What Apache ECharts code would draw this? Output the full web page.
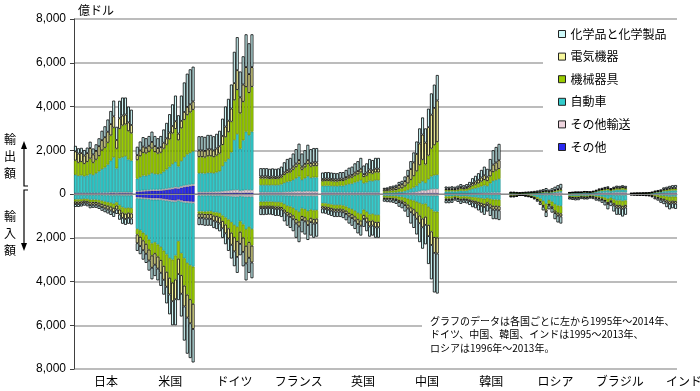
<!DOCTYPE html>
<html><head><meta charset="utf-8">
<script src="https://cdn.jsdelivr.net/npm/echarts/dist/echarts.min.js"></script>
<style>html,body{margin:0;padding:0;background:#fff}#c{width:700px;height:391px}</style>
</head><body><div id="c"></div>
<script>
// 億ドル. Layer order in every country array:
// [その他, その他輸送, 自動車, 機械器具, 電気機器, 化学品と化学製品]
const countries = ['日本','米国','ドイツ','フランス','英国','中国','韓国','ロシア','ブラジル','インド'];
const startYears = [1995,1995,1995,1995,1995,1995,1995,1996,1995,1995];
const layerNames = ['その他','その他輸送','自動車','機械器具','電気機器','化学品と化学製品'];
const legendOrder = ['化学品と化学製品','電気機器','機械器具','自動車','その他輸送','その他'];
const yTicks = [-8000,-6000,-4000,-2000,0,2000,4000,6000,8000];

const japanExport = [
 [20,20,20,20,20,20,20,20,20,25,25,25,30,30,25,30,30,30,30,30],
 [30,30,30,30,30,30,30,30,35,35,40,40,45,50,45,50,50,50,45,45],
 [830,780,800,760,800,870,820,900,980,1080,1150,1280,1450,1600,1100,1550,1600,1650,1500,1450],
 [650,600,620,570,620,700,560,620,700,850,900,1000,1150,1350,900,1350,1450,1450,1300,1250],
 [420,420,400,380,400,480,380,400,450,470,480,500,520,520,400,480,460,450,400,380],
 [250,240,240,250,250,290,270,300,360,430,500,560,600,720,600,800,820,780,720,700]];
const japanImport = [
 [30,30,30,30,30,30,30,30,30,35,35,35,40,40,35,40,45,45,45,45],
 [20,20,20,20,20,20,20,20,20,20,25,25,25,25,25,25,25,25,25,25],
 [200,200,190,170,180,210,210,210,230,260,290,320,340,380,320,450,540,580,560,580],
 [100,100,100,90,100,120,110,110,120,140,150,160,170,190,150,200,240,250,230,240],
 [110,110,100,90,100,130,120,120,130,150,160,170,180,190,180,220,240,240,230,230],
 [130,130,130,130,130,140,140,140,150,160,170,180,200,220,200,240,270,270,270,270]];
const usExport = [
 [100,110,120,130,140,150,150,150,160,170,190,210,230,260,250,290,320,340,360,380],
 [40,40,45,45,45,50,50,50,50,55,55,60,60,65,60,65,70,70,70,70],
 [560,620,680,660,700,760,720,700,720,800,880,980,1080,1150,950,1150,1300,1400,1450,1500],
 [850,960,1040,1020,1050,1120,1000,950,960,1050,1130,1250,1400,1500,1200,1500,1700,1800,1850,1900],
 [230,260,280,260,270,300,270,250,250,270,290,310,340,350,300,340,360,370,370,380],
 [380,410,435,435,445,470,460,450,510,605,705,840,990,1175,840,1155,1350,1520,1600,1590]];
const usImport = [
 [150,160,170,180,190,200,200,200,210,230,250,270,290,300,260,300,330,340,350,360],
 [50,50,50,50,50,60,60,60,60,60,60,60,60,60,50,60,60,60,60,60],
 [1400,1450,1550,1650,1850,2000,1950,2050,2150,2300,2450,2600,2650,2450,1850,2350,2550,2750,2850,2900],
 [250,300,350,400,450,550,500,550,600,700,800,900,1050,1100,800,1000,1250,1450,1550,1700],
 [400,420,450,450,500,560,520,550,580,630,680,760,850,900,700,850,950,1050,1100,1150],
 [350,370,430,420,460,530,520,540,600,680,760,910,1100,1190,1190,1040,1560,1650,1590,1530]];
const germanyExport = [
 [30,30,30,30,30,30,30,30,35,40,40,45,50,50,40,45,50,50,50],
 [60,60,60,60,70,70,80,80,90,100,110,120,130,140,110,120,140,130,130],
 [860,860,850,880,870,850,880,930,1150,1340,1460,1740,2290,2550,1920,2290,2660,2510,2670],
 [740,740,730,760,760,740,770,810,970,1120,1220,1400,1820,2020,1620,1760,2040,1930,2050],
 [300,300,300,310,310,300,320,330,410,480,520,600,780,900,730,790,910,860,900],
 [650,650,640,660,660,650,670,710,790,920,1000,1100,1430,1510,1180,1290,1500,1410,1500]];
const germanyImport = [
 [30,30,30,30,30,30,30,30,35,40,40,45,50,50,40,45,50,50,50],
 [40,40,40,40,40,45,45,45,50,55,60,65,70,75,60,70,80,75,80],
 [730,730,740,730,720,760,770,800,900,980,1070,1180,1300,1380,1150,1280,1480,1380,1470],
 [100,100,110,120,130,150,170,190,250,320,400,480,560,650,480,600,760,690,760],
 [190,190,200,210,220,240,250,280,330,400,460,550,640,720,550,650,800,720,770],
 [330,330,330,320,310,330,340,360,440,500,570,630,680,730,520,660,780,690,720]];
const franceExport = [
 [20,20,20,20,20,20,20,20,20,20,20,20,20,20,20,20,20,20,20,20],
 [60,60,60,60,60,60,60,60,70,80,80,90,100,110,90,100,110,100,100,100],
 [330,330,330,320,330,320,330,360,420,460,480,540,600,670,540,600,680,620,640,640],
 [300,300,300,290,290,290,290,310,360,400,410,460,510,570,460,500,560,510,520,520],
 [95,95,95,92,94,92,94,100,115,125,130,145,160,180,145,160,175,160,165,165],
 [375,375,375,368,376,368,376,400,465,515,530,595,660,750,595,620,705,640,655,655]];
const franceImport = [
 [20,20,20,20,20,20,20,20,20,20,20,20,20,20,20,20,20,20,20,20],
 [40,40,40,40,40,40,40,40,45,50,55,60,65,70,60,65,70,65,70,70],
 [295,295,290,290,295,310,310,330,400,470,500,560,660,730,580,610,700,630,660,650],
 [190,190,190,190,190,200,200,210,250,290,310,340,400,440,350,370,420,380,400,390],
 [100,100,100,100,100,105,105,110,130,150,160,175,200,220,175,185,210,190,200,195],
 [315,315,310,300,315,325,325,340,405,470,505,545,655,720,565,600,680,615,650,625]];
const ukExport = [
 [20,20,20,20,20,20,20,20,20,20,20,20,20,20,20,20,20,20,20,20],
 [50,50,50,50,50,50,50,50,50,50,50,50,50,50,50,50,50,50,50,50],
 [300,310,310,300,295,290,310,310,350,385,405,460,500,560,425,460,540,520,560,560],
 [215,220,220,215,210,210,220,220,240,265,275,310,330,360,285,310,350,340,360,360],
 [100,100,100,100,95,95,100,100,110,120,125,140,150,165,130,140,160,155,165,165],
 [295,300,300,295,290,285,300,300,330,360,375,420,450,495,390,420,480,465,495,495]];
const ukImport = [
 [20,20,20,20,20,20,20,20,20,20,20,20,20,20,20,20,20,20,20,20],
 [30,30,30,30,30,30,30,30,30,30,30,30,30,30,30,30,30,30,30,30],
 [370,380,405,430,455,455,455,480,525,600,645,720,815,860,670,765,885,860,910,910],
 [140,145,150,160,170,170,170,175,190,215,230,255,290,305,240,270,310,305,320,320],
 [105,110,115,120,125,125,125,130,145,160,175,190,215,230,180,205,235,230,240,240],
 [215,215,230,240,250,250,250,265,290,325,350,385,430,455,360,410,470,455,480,480]];
const chinaExport = [
 [10,10,10,10,10,15,15,15,20,20,20,20,20,25,20,25,25,25,25],
 [15,15,15,15,20,25,25,30,40,50,60,80,110,140,140,170,200,210,210],
 [30,32,38,42,46,60,66,90,125,170,220,280,360,420,350,480,580,620,640],
 [75,80,95,100,110,145,160,215,300,410,520,660,830,980,840,1080,1270,1380,1500],
 [85,90,105,115,125,165,180,240,330,490,625,790,990,1150,1000,1300,1550,1700,1900],
 [65,73,87,98,109,140,154,210,285,360,455,570,690,785,650,845,975,1065,1165]];
const chinaImport = [
 [10,10,10,10,10,10,10,15,15,15,15,20,20,20,20,20,20,20,20],
 [15,15,15,15,15,20,20,25,30,35,35,40,45,50,50,55,60,60,60],
 [55,60,60,65,70,95,105,130,170,215,250,295,350,400,370,510,620,720,730],
 [90,95,100,105,115,150,170,210,275,350,400,480,570,650,600,830,1010,1170,1180],
 [55,60,60,65,70,95,105,130,170,215,250,295,350,400,370,510,620,720,730],
 [125,130,135,140,170,210,240,290,390,520,600,720,865,980,890,1275,1570,1810,1830]];
const koreaExport = [
 [10,10,10,10,10,10,10,10,10,10,10,10,10,10,10,10,10,10,10],
 [15,15,15,15,15,20,20,20,25,30,30,35,40,45,45,50,55,55,60],
 [90,90,95,90,100,120,110,120,150,195,225,255,300,340,310,430,540,580,620],
 [70,65,70,65,75,90,80,90,110,145,165,190,220,250,230,320,400,430,460],
 [60,55,60,55,65,75,70,75,95,120,140,160,185,210,195,270,340,365,390],
 [95,95,100,95,115,135,110,135,160,220,260,300,345,395,360,520,655,710,750]];
const koreaImport = [
 [10,10,10,10,10,10,10,10,10,10,10,10,10,10,10,10,10,10,10],
 [15,15,15,15,15,15,15,15,15,15,15,15,15,15,15,15,15,15,15],
 [85,85,80,60,70,90,80,85,100,120,130,150,170,190,160,200,230,230,240],
 [105,105,100,75,90,110,100,110,125,150,165,190,215,240,200,250,290,290,300],
 [65,65,60,45,55,70,60,65,75,90,100,115,130,140,120,150,170,170,180],
 [140,140,135,95,120,155,135,145,175,215,230,270,310,355,295,375,435,435,445]];
const russiaExport = [
 [5,5,5,5,5,5,5,5,5,5,5,5,5,5,5,5,5,5],
 [15,15,12,10,12,15,15,18,20,22,25,30,35,30,35,45,55,60],
 [15,15,12,10,12,15,15,18,20,22,25,30,35,25,35,45,55,65],
 [15,15,15,12,15,15,18,20,22,25,30,35,45,35,45,55,65,75],
 [10,10,10,8,10,10,12,12,15,16,20,22,25,20,25,35,40,45],
 [40,40,36,35,36,40,45,47,58,70,85,98,125,85,115,145,180,210]];
const russiaImport = [
 [5,5,5,3,3,4,5,6,8,10,15,20,30,20,25,35,40,40],
 [5,5,5,3,3,4,5,6,8,10,15,20,30,20,25,35,40,40],
 [45,45,40,25,25,35,45,60,85,125,180,280,390,240,300,400,450,470],
 [38,38,33,20,20,28,35,45,62,88,125,190,265,175,215,290,330,340],
 [15,15,13,8,8,11,14,18,25,35,50,75,105,70,85,115,130,135],
 [42,42,34,21,21,28,36,45,62,82,115,165,230,175,200,275,310,325]];
const brazilExport = [
 [4,4,5,5,5,6,6,5,7,9,12,14,16,17,13,16,19,18,20,18],
 [12,14,15,15,15,20,18,17,21,28,38,42,48,52,40,50,57,55,60,55],
 [24,27,30,30,30,39,36,33,42,57,75,84,96,105,81,99,114,111,120,111],
 [16,18,20,20,20,26,24,22,28,38,50,56,64,70,54,66,76,74,80,74],
 [6,7,8,8,8,10,10,9,11,15,20,22,26,28,22,26,30,30,32,30],
 [18,20,22,22,22,29,26,24,31,43,55,62,70,78,60,73,84,82,88,82]];
const brazilImport = [
 [8,8,9,8,7,8,8,6,7,9,10,12,16,21,17,24,29,29,31,29],
 [8,8,9,8,7,8,8,6,7,9,10,12,16,21,17,24,29,29,31,29],
 [62,68,72,70,58,62,62,52,58,75,82,100,130,175,138,200,238,238,258,238],
 [55,60,64,62,50,55,55,46,50,66,73,88,114,154,121,176,209,209,227,209],
 [30,32,35,34,28,30,30,25,28,36,40,48,62,84,66,96,114,114,124,114],
 [87,94,101,98,80,87,87,75,80,105,115,140,182,245,191,280,331,331,359,331]];
const indiaExport = [
 [2,2,3,3,3,3,4,5,8,9,11,15,17,19,20,21,23,24,25],
 [4,5,5,5,6,6,7,10,15,18,21,30,33,37,40,41,45,48,50],
 [10,11,12,12,14,15,18,25,38,45,52,75,82,92,100,102,112,120,125],
 [8,9,10,10,11,12,14,20,30,36,42,60,66,74,80,82,90,96,100],
 [4,5,5,5,6,6,7,10,15,18,21,30,33,37,40,41,45,48,50],
 [12,13,15,15,15,18,20,30,44,54,63,90,99,111,120,123,135,144,150]];
const indiaImport = [
 [2,2,2,2,2,3,3,5,7,9,12,14,18,21,20,20,23,24,25],
 [3,3,4,4,4,5,5,8,12,15,20,23,30,35,33,34,38,40,41],
 [5,6,7,7,8,9,10,15,24,30,40,46,60,70,65,68,75,80,82],
 [15,18,21,21,24,27,30,45,72,90,120,138,180,210,195,204,225,240,246],
 [9,10,12,12,14,15,17,26,41,51,68,78,102,119,110,116,128,136,139],
 [16,21,24,24,28,31,35,51,84,105,140,161,210,245,227,238,261,280,287]];

const exportsByCountry = [japanExport,usExport,germanyExport,franceExport,ukExport,chinaExport,koreaExport,russiaExport,brazilExport,indiaExport];
const importsByCountry = [japanImport,usImport,germanyImport,franceImport,ukImport,chinaImport,koreaImport,russiaImport,brazilImport,indiaImport];

const layerStyle = {
  'その他': {color:'#2a2af2', borderColor:'#14147a', borderWidth:0.5},
  'その他輸送': {color:'#efd5df', borderColor:'#8a7a80', borderWidth:0.5},
  '自動車': {color:'#33cccc', borderColor:'#1f8a8a', borderWidth:0.6},
  '機械器具': {color:'#99cc00', borderColor:'#5f8000', borderWidth:0.6},
  '電気機器': {color:'#f7f79c', borderColor:'#000', borderWidth:0.8},
  '化学品と化学製品': {color:'#ccf7f7', borderColor:'#000', borderWidth:0.8}
};

// build slot table: 20 year slots per country + one separator slot
const categories = [];
const expData = layerNames.map(() => []);
const impData = layerNames.map(() => []);
countries.forEach((c, ci) => {
  for (let y = 1995; y <= 2014; y++) {
    categories.push(c + y);
    const k = y - startYears[ci];
    layerNames.forEach((ln, li) => {
      const e = exportsByCountry[ci][li], m = importsByCountry[ci][li];
      expData[li].push(k >= 0 && k < e.length ? e[k] : null);
      impData[li].push(k >= 0 && k < m.length ? -m[k] : null);
    });
  }
  categories.push('sep' + ci);
  layerNames.forEach((ln, li) => { expData[li].push(null); impData[li].push(null); });
});

const series = [];
layerNames.forEach((ln, li) => {
  [expData[li], impData[li]].forEach(d => {
    series.push({
      name: ln, type: 'bar', stack: 'all', xAxisIndex: 1, yAxisIndex: 1,
      data: d, barCategoryGap: '0%', itemStyle: layerStyle[ln], clip: true,
      emphasis: {disabled: true}, silent: true
    });
  });
});

const jp = '"Noto Sans CJK JP", sans-serif';
const chart = echarts.init(document.getElementById('c'), null, {renderer: 'canvas'});
chart.setOption({
  animation: false,
  textStyle: {fontFamily: jp},
  grid: [
    {left: 74, top: 19, width: 603, height: 350, outerBoundsMode: 'none', containLabel: false},
    {left: 74, top: 19, width: 603, height: 350, outerBoundsMode: 'none', containLabel: false},
    {left: 74, top: 19, width: 642, height: 350, outerBoundsMode: 'none', containLabel: false}
  ],
  xAxis: [
    {gridIndex: 0, type: 'value', show: false, min: 0, max: 1},
    {gridIndex: 1, type: 'category', data: categories, z: 5, min: 0, max: 204,
     axisLine: {show: true, onZero: true, lineStyle: {color: '#8c8c8c', width: 1}},
     axisTick: {show: false}, axisLabel: {show: false}, splitLine: {show: false}},
    {gridIndex: 2, type: 'category', data: countries, position: 'bottom',
     axisLine: {show: false}, axisTick: {show: false},
     axisLabel: {fontSize: 12, color: '#000', margin: 6, fontFamily: jp}}
  ],
  yAxis: [
    {gridIndex: 0, type: 'value', min: yTicks[0], max: yTicks[yTicks.length-1], interval: 2000,
     axisLine: {show: true, lineStyle: {color: '#404040', width: 1}},
     axisTick: {show: true, length: 4, lineStyle: {color: '#404040'}},
     axisLabel: {fontSize: 12, color: '#000', margin: 8, fontFamily: '"Liberation Sans", Arial, sans-serif',
       formatter: v => Math.abs(v).toLocaleString('en-US')},
     splitLine: {show: true, lineStyle: {color: '#a6a6a6', width: 1.5}}},
    {gridIndex: 1, type: 'value', min: yTicks[0], max: yTicks[yTicks.length-1], show: false, splitLine: {show: false}},
    {gridIndex: 2, type: 'value', show: false, splitLine: {show: false}}
  ],
  legend: {
    data: legendOrder, orient: 'vertical', left: 543, top: 22,
    backgroundColor: '#fff', padding: [6, 12, 8, 15],
    itemWidth: 7, itemHeight: 7, itemGap: 10.6, icon: 'rect',
    itemStyle: {borderColor: '#222', borderWidth: 1},
    textStyle: {fontSize: 12, color: '#000', fontFamily: jp},
    selectedMode: false
  },
  graphic: [
    {type: 'text', left: 78, top: 4, style: {text: '億ドル', font: '12px ' + jp, fill: '#000'}},
    {type: 'text', left: 4, top: 131, style: {text: '輸\n出\n額', font: '12px ' + jp, lineHeight: 17, fill: '#000'}},
    {type: 'text', left: 4, top: 208, style: {text: '輸\n入\n額', font: '12px ' + jp, lineHeight: 17, fill: '#000'}},
    {type: 'polyline', shape: {points: [[24, 147], [24, 186], [28, 186]]}, style: {stroke: '#000', lineWidth: 1.2, fill: null}},
    {type: 'polygon', shape: {points: [[24, 141], [21, 149], [27, 149]]}, style: {fill: '#000'}},
    {type: 'polyline', shape: {points: [[28, 190], [24, 190], [24, 244]]}, style: {stroke: '#000', lineWidth: 1.2, fill: null}},
    {type: 'polygon', shape: {points: [[24, 251], [21, 243], [27, 243]]}, style: {fill: '#000'}},
    {type: 'text', left: 422, top: 311, z: 10,
     style: {text: 'グラフのデータは各国ごとに左から1995年～2014年、\nドイツ、中国、韓国、インドは1995～2013年、\nロシアは1996年～2013年。',
       font: '10px ' + jp, lineHeight: 13.5, fill: '#000', backgroundColor: '#fff', padding: [3, 30, 3, 8]}}
  ],
  series: series
});
</script></body></html>
